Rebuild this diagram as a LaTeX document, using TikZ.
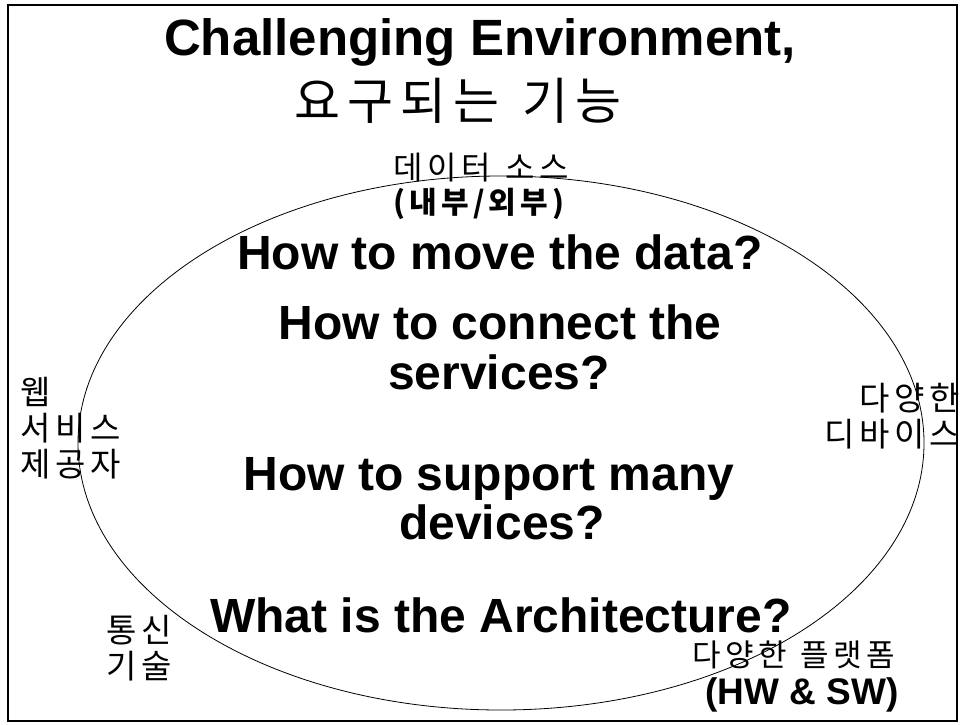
\documentclass[tikz,border=0pt]{standalone}
\usepackage{fontspec}
\setmainfont{Liberation Sans}
\newfontfamily\kr{Noto Sans CJK KR}
\def\kspc#1{\kspcA#1\relax}
\def\kspcA#1{#1\kspcB}
\def\kspcB#1{\ifx#1\relax\else\kern.14em#1\expandafter\kspcB\fi}
\tikzset{
  en/.style={font=\bfseries\fontsize{48}{52}\selectfont, inner sep=0pt, anchor=base},
  krtxt/.style={inner sep=0pt},
  side/.style={krtxt, font=\kr\fontsize{33}{36}\selectfont},
}
\begin{document}
\begin{tikzpicture}[x=1pt,y=-1pt]
\useasboundingbox (0,0) rectangle (960,724);
\draw[line width=1.6pt] (8,5) rectangle (957,721);
\draw[line width=0.8pt] (501,443) ellipse [x radius=423pt, y radius=267pt];
\node[en, font=\bfseries\fontsize{51}{56}\selectfont] (title) at (480,55) {Challenging Environment,};
\node[krtxt, font=\kr\fontsize{50}{54}\selectfont] (req) at (458,101) {\kspc{요구되는}\kern.45em\kspc{기능}};
\node[krtxt, font=\kr\fontsize{32}{34}\selectfont] (src) at (481,168) {\kspc{데이터}\kern.45em\kspc{소스}};
\node[krtxt, font=\kr\bfseries\fontsize{30}{34}\selectfont] (inout) at (479,204) {\kspc{(내부/외부)}};
\node[en] (q1) at (500,269) {How to move the data?};
\node[en] (q2a) at (500,339) {How to connect the};
\node[en] (q2b) at (499,389) {services?};
\node[en] (q3a) at (489,490) {How to support many};
\node[en] (q3b) at (502,539) {devices?};
\node[en] (q4) at (501,632) {What is the Architecture?};
\node[side, anchor=north west, align=left] (web) at (20,377) {\kspc{웹}\\\kspc{서비스}\\\kspc{제공자}};
\node[side, anchor=north west, align=left] (comm) at (106,615) {\kspc{통신}\\\kspc{기술}};
\node[side, anchor=north east, align=right] (dev) at (960,383) {\kspc{다양한}\\\kspc{디바이스}};
\node[krtxt, anchor=east, font=\kr\fontsize{31}{36}\selectfont] (plat) at (895,655) {\kspc{다양한}\kern.45em\kspc{플랫폼}};
\node[en, anchor=base east, font=\bfseries\fontsize{37}{40}\selectfont] (hwsw) at (899,704) {(HW \& SW)};
\end{tikzpicture}
\end{document}
